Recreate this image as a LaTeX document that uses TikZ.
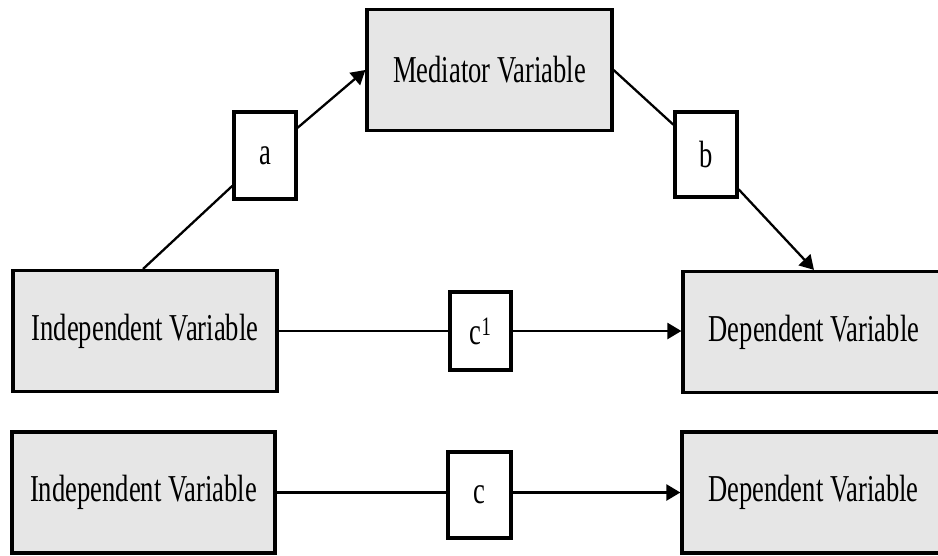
\documentclass[tikz,border=0pt]{standalone}
\usepackage{fontspec}
\setmainfont{Liberation Serif}
\newfontfamily\tf[FakeStretch=0.7]{Liberation Serif}
\usetikzlibrary{arrows.meta}
\definecolor{boxgray}{HTML}{E6E6E6}
\tikzset{
  varbox/.style={draw=black, line width=3.2pt, fill=boxgray, inner sep=0pt,
    minimum width=#1, minimum height=121pt, font=\tf\fontsize{38}{40}\selectfont},
  pathbox/.style={draw=black, line width=3.2pt, fill=white, inner sep=0pt,
    minimum width=62pt, font=\tf\fontsize{38}{40}\selectfont},
  conn/.style={line width=2.3pt},
  arr/.style={line width=2.3pt, -{Triangle[length=14pt,width=16pt]}}
}
\begin{document}
\begin{tikzpicture}[x=1pt,y=-1pt]
\useasboundingbox (0,0) rectangle (938,555);
\node[varbox=245pt] (med) at (489.5,70) {Mediator Variable};
\node[varbox=264pt] (iv1) at (145,331) {Independent Variable};
\node[varbox=262pt] (dv1) at (814,332) {Dependent Variable};
\node[varbox=263pt] (iv2) at (143.5,492.5) {Independent Variable};
\node[varbox=263pt] (dv2) at (813.5,492.5) {Dependent Variable};
\coordinate (s1) at (143,269);
\node[pathbox, minimum height=87pt] (a) at (265,155.5) {a};
\node[pathbox, minimum height=85pt] (b) at (706,154.5) {b};
\node[pathbox, minimum height=78pt, minimum width=61pt] (c1) at (480.5,331) {c\textsuperscript{1}};
\node[pathbox, minimum height=86pt, minimum width=63pt] (c) at (479.5,495) {c};
\draw[conn] (s1) -- (a);
\draw[arr] (a) -- (med.west);
\draw[conn] (med.east) -- (b);
\draw[arr] (b) -- (dv1.north);
\draw[conn] (iv1.east) -- (c1.west |- iv1.east);
\draw[arr] (c1.east |- iv1.east) -- (dv1.west |- iv1.east);
\draw[conn] (iv2.east) -- (iv2.east -| c.west);
\draw[arr] (iv2.east -| c.east) -- (dv2.west);
\end{tikzpicture}
\end{document}
